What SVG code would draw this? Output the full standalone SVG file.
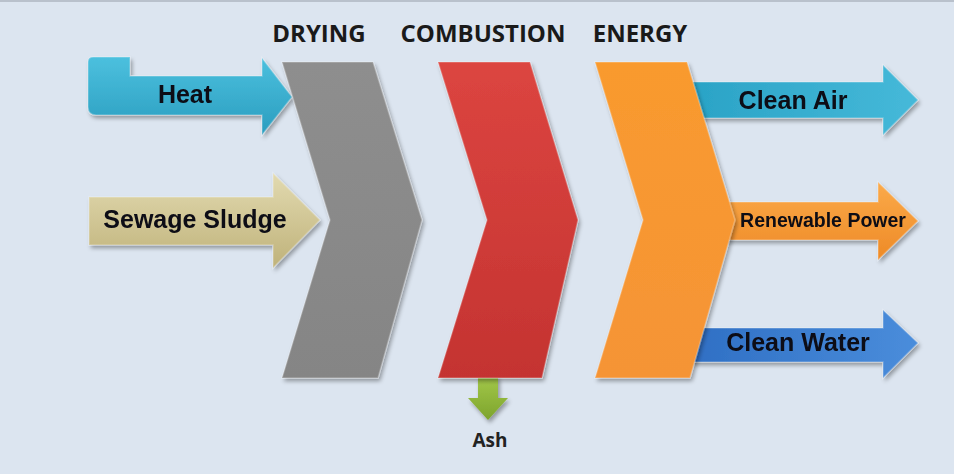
<svg xmlns="http://www.w3.org/2000/svg" width="954" height="474" viewBox="0 0 954 474">
  <defs>
    <filter id="sh" x="-10%" y="-10%" width="130%" height="130%">
      <feGaussianBlur in="SourceAlpha" stdDeviation="2"/>
      <feOffset dx="2" dy="3" result="b"/>
      <feComponentTransfer><feFuncA type="linear" slope="0.35"/></feComponentTransfer>
      <feMerge><feMergeNode/><feMergeNode in="SourceGraphic"/></feMerge>
    </filter>
    <linearGradient id="gHeat" x1="0" y1="0" x2="0" y2="1">
      <stop offset="0" stop-color="#4cc0de"/><stop offset="1" stop-color="#2a9dbf"/>
    </linearGradient>
    <linearGradient id="gAir" x1="0" y1="0" x2="1" y2="0">
      <stop offset="0" stop-color="#2aa3c6"/><stop offset="1" stop-color="#46b9d9"/>
    </linearGradient>
    <linearGradient id="gSludge" x1="0" y1="0" x2="0" y2="1">
      <stop offset="0" stop-color="#e2dab0"/><stop offset="1" stop-color="#bfb27a"/>
    </linearGradient>
    <linearGradient id="gGray" x1="0" y1="0" x2="0" y2="1">
      <stop offset="0" stop-color="#8e8e8e"/><stop offset="1" stop-color="#858585"/>
    </linearGradient>
    <linearGradient id="gRed" x1="0" y1="0" x2="0" y2="1">
      <stop offset="0" stop-color="#dc4540"/><stop offset="1" stop-color="#c43331"/>
    </linearGradient>
    <linearGradient id="gOrange" x1="0" y1="0" x2="0" y2="1">
      <stop offset="0" stop-color="#f99a2e"/><stop offset="1" stop-color="#f59436"/>
    </linearGradient>
    <linearGradient id="gPower" x1="0" y1="0" x2="0" y2="1">
      <stop offset="0" stop-color="#fbaa4a"/><stop offset="1" stop-color="#ee8a26"/>
    </linearGradient>
    <linearGradient id="gWater" x1="0" y1="0" x2="1" y2="0">
      <stop offset="0" stop-color="#2f6fc4"/><stop offset="1" stop-color="#4a8ddb"/>
    </linearGradient>
    <linearGradient id="gAsh" x1="0" y1="0" x2="0" y2="1">
      <stop offset="0" stop-color="#a3c84a"/><stop offset="1" stop-color="#7da42c"/>
    </linearGradient>
    <style>
      .lbl { font-family: "Liberation Sans", Arial, sans-serif; font-weight: bold; fill: #0b0b14; text-anchor: middle; }
      .hdr { font-family: "Open Sans", "Liberation Sans", sans-serif; font-weight: bold; font-size: 24px; fill: #1a1a1a; text-anchor: middle; }
      .edge { stroke: #ffffff; stroke-opacity: 0.25; stroke-width: 1.5; }
    </style>
  </defs>

  <rect x="0" y="0" width="954" height="474" fill="#dce5f0"/>
  <rect x="0" y="0" width="954" height="2" fill="#b9c1cc"/>

  <g id="headers">
    <text class="hdr" x="319" y="42">DRYING</text>
    <text class="hdr" x="483" y="42">COMBUSTION</text>
    <text class="hdr" x="640" y="42">ENERGY</text>
  </g>

  <g id="connectors">
    <g id="heat" filter="url(#sh)">
      <path class="edge" d="M93,57 H130 V76 H262 V58 L292,97 L262,135 V115 H96 Q88,115 88,107 V62 Q88,57 93,57 Z" fill="url(#gHeat)"/>
      <text class="lbl" x="185" y="103" font-size="25">Heat</text>
    </g>
    <g id="sludge" filter="url(#sh)">
      <path class="edge" d="M89,197 H273 V173 L320,220 L273,268 V245 H89 Z" fill="url(#gSludge)"/>
      <text class="lbl" x="195" y="228" font-size="25">Sewage Sludge</text>
    </g>
    <g id="clean-air" filter="url(#sh)">
      <path class="edge" d="M690,82 H883 V65 L918,100 L883,135 V118 H690 Z" fill="url(#gAir)"/>
      <text class="lbl" x="793" y="109" font-size="25">Clean Air</text>
    </g>
    <g id="renewable-power" filter="url(#sh)">
      <path class="edge" d="M712,202 H878 V182 L918,221 L878,260 V240 H712 Z" fill="url(#gPower)"/>
      <text class="lbl" x="823" y="227" font-size="19.5">Renewable Power</text>
    </g>
    <g id="clean-water" filter="url(#sh)">
      <path class="edge" d="M690,328 H883 V310 L918,343 L883,378 V362 H690 Z" fill="url(#gWater)"/>
      <text class="lbl" x="798" y="351" font-size="25">Clean Water</text>
    </g>
    <g id="ash" filter="url(#sh)">
      <path d="M478,376 H498 V398 H508 L488,420 L468,398 H478 Z" fill="url(#gAsh)"/>
    </g>
    <text class="lbl" x="490" y="447" font-size="19" style="font-family:'Open Sans','Liberation Sans',sans-serif;font-weight:bold;fill:#222">Ash</text>
  </g>

  <g id="drying" filter="url(#sh)">
    <path class="edge" d="M282,62 H373 L422,220 L378,378 H282 L330,220 Z" fill="url(#gGray)"/>
  </g>
  <g id="combustion" filter="url(#sh)">
    <path class="edge" d="M438,62 H530 L578,220 L542,378 H438 L487,220 Z" fill="url(#gRed)"/>
  </g>
  <g id="energy" filter="url(#sh)">
    <path class="edge" d="M595,62 H687 L735,220 L690,378 H595 L643,220 Z" fill="url(#gOrange)"/>
  </g>
</svg>
